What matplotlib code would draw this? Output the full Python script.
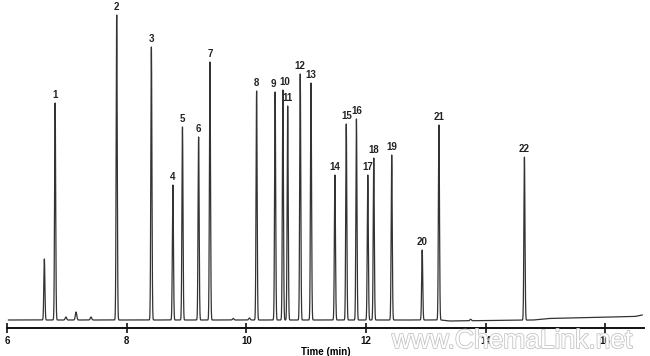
import numpy as np
import matplotlib
matplotlib.use('Agg')
import matplotlib.pyplot as plt
import matplotlib.patheffects as pe

# ---- data ----
peak_labels = ['', '1', '2', '3', '4', '5', '6', '7', '8', '9', '10', '11',
               '12', '13', '14', '15', '16', '17', '18', '19', '20', '21', '22']
retention_times = [6.62, 6.80, 7.83, 8.41, 8.77, 8.93, 9.20, 9.39, 10.17, 10.48,
                   10.61, 10.69, 10.90, 11.08, 11.48, 11.67, 11.84, 12.03, 12.13,
                   12.43, 12.94, 13.22, 14.65]
peak_heights = [61, 217, 305, 273, 135, 193, 183, 258, 229, 228, 230, 214, 246,
                237, 145, 196, 201, 145, 162, 165, 70, 195, 163]
minor_times = [6.98, 7.15, 7.40, 9.78, 10.05, 13.75]
minor_heights = [3, 8, 3, 1.5, 2, 1.5]
baseline_times = [6.02, 13.25, 13.40, 14.80, 15.05, 15.70, 16.50, 16.62]
baseline_levels = [0, 0, -1, 0, 1.5, 2.5, 3.5, 5]
x_ticks = [6, 8, 10, 12, 14, 16]

# label nudges (points), style only
label_dx = {'9': -1.5, '10': 1.5}

# ---- build trace ----
t = np.arange(6.02, 16.62, 0.001)
signal = np.interp(t, baseline_times, baseline_levels)
sigma = 0.009
for rt, h in zip(retention_times, peak_heights):
    signal += h * np.exp(-0.5 * ((t - rt) / sigma) ** 2)
for rt, h in zip(minor_times, minor_heights):
    signal += h * np.exp(-0.5 * ((t - rt) / 0.012) ** 2)

fig = plt.figure(figsize=(6.5, 3.56), dpi=100)
ax = fig.add_axes([7.3 / 650, 28 / 356, (644 - 7.3) / 650, 328 / 356])
ax.plot(t, signal, color='#333333', lw=0.9)
ax.set_xlim(6, 16.65)
ax.set_ylim(-8, 320)

label_font = dict(family=['Liberation Sans Narrow', 'Liberation Sans', 'DejaVu Sans'],
                  weight='bold')
for lab, rt, h in zip(peak_labels, retention_times, peak_heights):
    if lab:
        ax.annotate(lab, xy=(rt, h), xytext=(label_dx.get(lab, 0), 2.5),
                    textcoords='offset points', ha='center', va='bottom',
                    fontsize=7, color='#222222', **label_font)

for s in ['top', 'right', 'left']:
    ax.spines[s].set_visible(False)
ax.spines['bottom'].set_linewidth(1.4)
ax.spines['bottom'].set_color('#111111')
ax.set_yticks([])
ax.set_xticks(x_ticks)
ax.set_xticklabels([str(v) for v in x_ticks], fontsize=7, **label_font)
ax.tick_params(axis='x', direction='inout', length=7, width=1.2, pad=2,
               colors='#111111')
ax.set_xlabel('Time (min)', fontsize=7, labelpad=1, **label_font)

fig.text(512 / 650, 1 - 341 / 356, 'www.ChemaLink.net', ha='center', va='center',
         fontsize=19, color='white', family='Liberation Sans', zorder=0,
         path_effects=[pe.withStroke(linewidth=1.2, foreground='#c4c4c4')])

fig.savefig('out.png', dpi=100)
